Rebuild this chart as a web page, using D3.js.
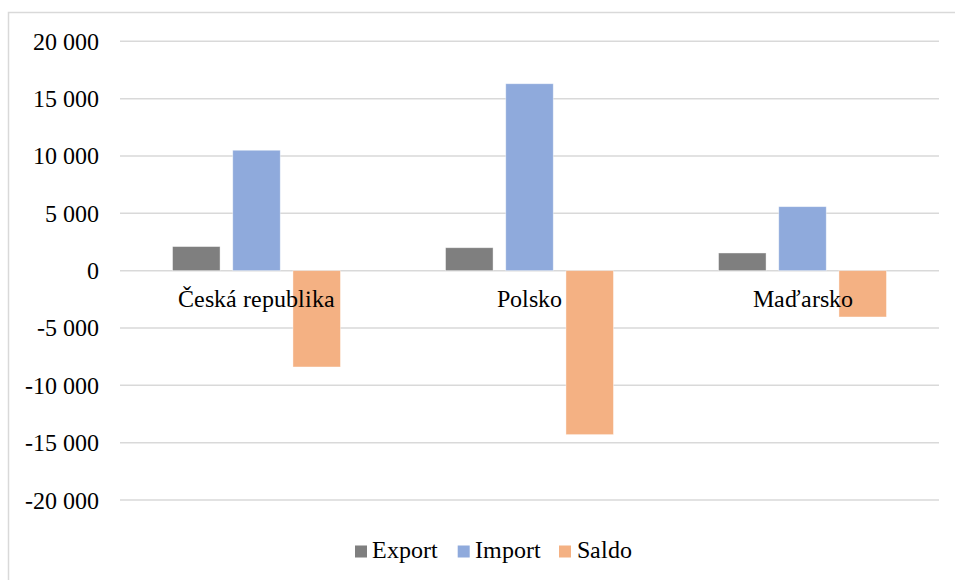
<!DOCTYPE html>
<html lang="cs">
<head>
<meta charset="utf-8">
<script src="https://cdn.jsdelivr.net/npm/d3@7"></script>
<style>
  @font-face { font-family: "ChartSerif"; src: local("Liberation Serif"), local("LiberationSerif-Regular"), local("LiberationSerif"); }
  html, body { margin: 0; padding: 0; background: #fff; }
  svg { display: block; }
  svg text { font-family: "ChartSerif", "Liberation Serif", serif !important; }
</style>
</head>
<body>
<svg id="chart" width="955" height="580"></svg>
<script>
// Trade by country (Export, Import, Saldo)
const categories = ["Česká republika", "Polsko", "Maďarsko"];
const seriesNames = ["Export", "Import", "Saldo"];
const exportValues = [2100, 2000, 1540];
const importValues = [10500, 16300, 5580];
const saldoValues = [-8400, -14300, -4040];
const tickValues = [-20000, -15000, -10000, -5000, 0, 5000, 10000, 15000, 20000];
const colors = ["#7f7f7f", "#8faadc", "#f4b183"];

const seriesValues = [exportValues, importValues, saldoValues];
const FONT = "\"ChartSerif\", \"Liberation Serif\", serif";
const FS = 23.5;

const svg = d3.select("#chart");
const W = 955, H = 580;

const serifText = sel => sel
  .attr("font-family", FONT)
  .style("font-family", FONT, "important")
  .style("font-size", FS + "px", "important");

// outer chart frame
svg.append("rect")
  .attr("x", 8.5).attr("y", 12.5)
  .attr("width", W + 20).attr("height", H + 20)
  .attr("fill", "#fff").attr("stroke", "#d9d9d9").attr("stroke-width", 1.5);

const plot = { left: 120, right: 939, top: 41.3, bottom: 500 };

const y = d3.scaleLinear().domain([-20000, 20000]).range([plot.bottom, plot.top]);
const x = d3.scaleBand().domain(categories).range([plot.left, plot.right]);
const barW = 47.5, barStep = 60.2;
const gapFrac = 1 - barW / barStep;
const xs = d3.scaleBand().domain(seriesNames).range([0, barStep * 3])
  .paddingInner(gapFrac).paddingOuter(gapFrac / 2);

const fmt = v => {
  const s = d3.format(",")(Math.abs(v)).replace(/,/g, "\u00a0");
  return (v < 0 ? "-" : "") + s;
};

// gridlines
svg.append("g")
  .selectAll("line").data(tickValues).join("line")
  .attr("x1", plot.left).attr("x2", plot.right)
  .attr("y1", d => y(d)).attr("y2", d => y(d))
  .attr("stroke", "#d9d9d9").attr("stroke-width", 1.5);

// y axis labels
const yAxis = d3.axisLeft(y).tickValues(tickValues).tickFormat(fmt).tickSize(0).tickPadding(0);
const yg = svg.append("g").attr("transform", "translate(99,0)").call(yAxis)
  .attr("font-family", FONT).attr("font-size", FS);
yg.select(".domain").remove();
yg.selectAll("text").call(serifText).attr("fill", "#000").attr("dy", "0.34em");

// bars
const groups = svg.append("g").selectAll("g").data(categories).join("g")
  .attr("transform", d => `translate(${x(d) + (x.bandwidth() - barStep * 3) / 2},0)`);

groups.selectAll("rect")
  .data((d, i) => seriesNames.map((s, j) => ({ s, v: seriesValues[j][i], c: colors[j] })))
  .join("rect")
  .attr("x", d => xs(d.s))
  .attr("width", xs.bandwidth())
  .attr("y", d => Math.min(y(d.v), y(0)))
  .attr("height", d => Math.abs(y(d.v) - y(0)))
  .attr("fill", d => d.c)
  .attr("stroke", "#fff").attr("stroke-opacity", 0.5).attr("stroke-width", 0.8);

// category labels
const xAxis = d3.axisBottom(x).tickSize(0).tickPadding(0);
const xg = svg.append("g").attr("transform", `translate(0,${y(0)})`).call(xAxis)
  .attr("font-family", FONT).attr("font-size", FS);
xg.select(".domain").remove();
xg.selectAll("text").call(serifText).attr("fill", "#000")
  .attr("dy", null).attr("y", 36);

// legend
const legendItems = [
  { sx: 355, tx: 372 },
  { sx: 457.7, tx: 474.5 },
  { sx: 559, tx: 576.5 }
];
const lg = svg.append("g");
legendItems.forEach((it, i) => {
  lg.append("rect").attr("x", it.sx).attr("y", 545.5).attr("width", 12).attr("height", 12).attr("fill", colors[i]);
  lg.append("text").attr("x", it.tx).attr("y", 557.5).attr("fill", "#000")
    .call(serifText)
    .text(seriesNames[i]);
});
</script>
</body>
</html>
